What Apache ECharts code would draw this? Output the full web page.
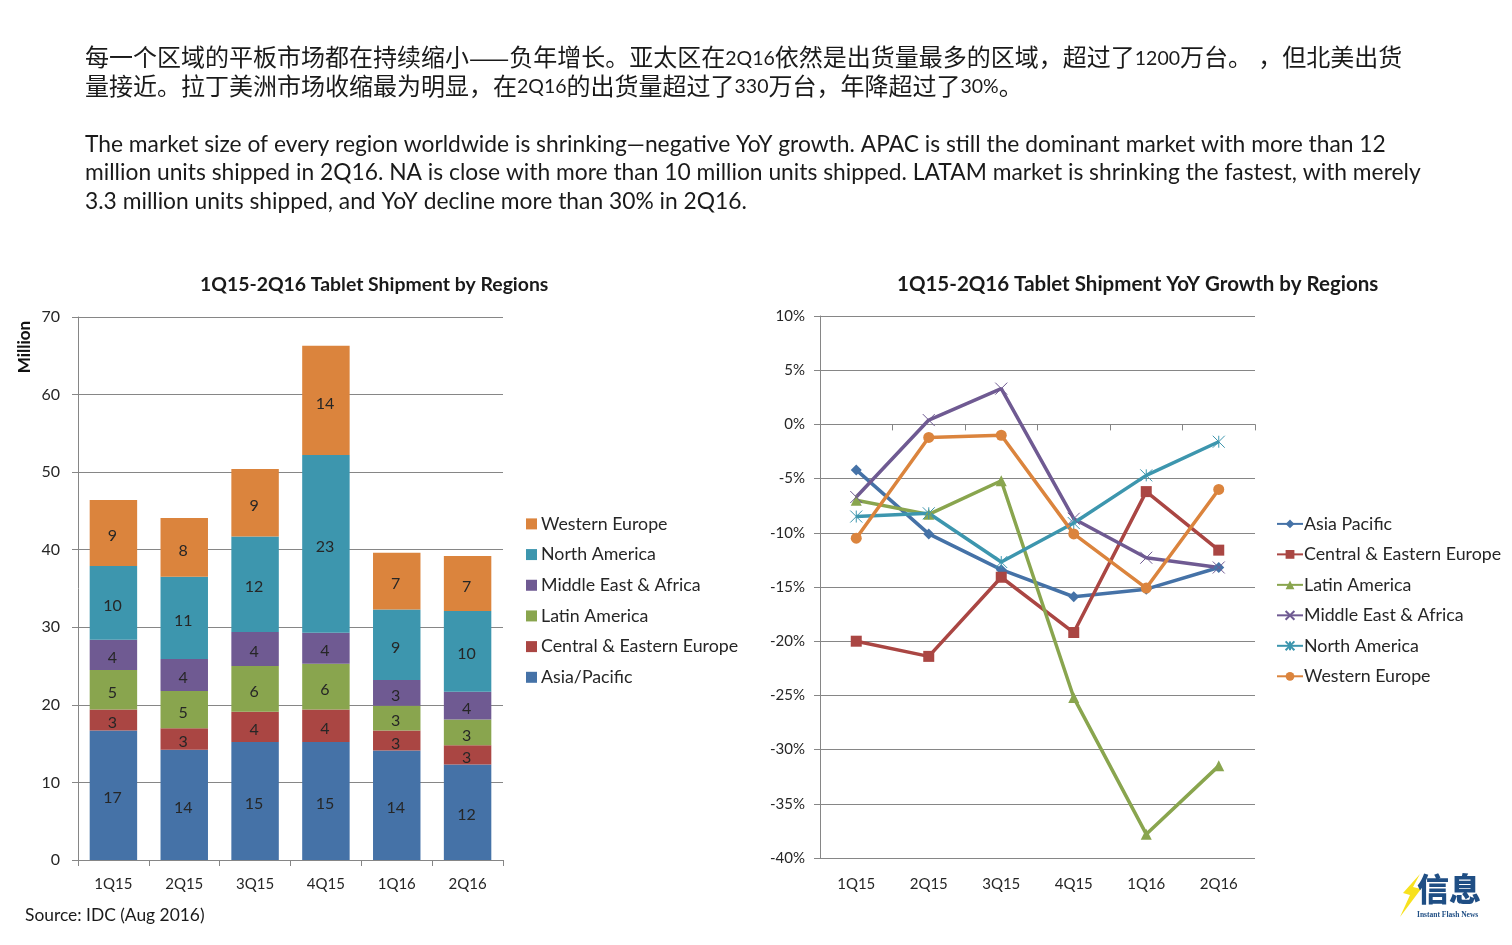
<!DOCTYPE html>
<html>
<head>
<meta charset="utf-8">
<title>Tablet Shipment by Regions</title>
<script src="https://cdn.jsdelivr.net/npm/echarts@6/dist/echarts.min.js"></script>
<style>
  html, body { margin: 0; padding: 0; background: #fff; }
  #main { width: 1512px; height: 945px; }
</style>
</head>
<body>
<div id="main"></div>
<script>
  const quarters = ['1Q15', '2Q15', '3Q15', '4Q15', '1Q16', '2Q16'];

  // shipment, million units
  const shipAsiaPacific = [16.7, 14.2, 15.2, 15.2, 14.1, 12.3];
  const shipCentralEurope = [2.7, 2.8, 3.9, 4.2, 2.6, 2.5];
  const shipLatinAmerica = [5.1, 4.8, 5.9, 5.9, 3.2, 3.3];
  const shipMiddleEast = [3.9, 4.1, 4.4, 4.0, 3.3, 3.6];
  const shipNorthAmerica = [9.5, 10.6, 12.3, 22.9, 9.1, 10.4];
  const shipWesternEurope = [8.5, 7.6, 8.7, 14.1, 7.3, 7.1];

  // YoY growth, percent
  const yoyAsiaPacific = [-4.2, -10.1, -13.4, -15.9, -15.2, -13.2];
  const yoyCentralEurope = [-20, -21.4, -14.1, -19.2, -6.2, -11.6];
  const yoyLatinAmerica = [-7.0, -8.3, -5.2, -25.2, -37.8, -31.5];
  const yoyMiddleEast = [-6.7, 0.4, 3.3, -8.7, -12.3, -13.2];
  const yoyNorthAmerica = [-8.5, -8.2, -12.7, -9.1, -4.7, -1.6];
  const yoyWesternEurope = [-10.5, -1.2, -1.0, -10.1, -15.1, -6.0];

  const BLUE = '#4572A7';
  const RED = '#AA4643';
  const GREEN = '#89A54E';
  const PURPLE = '#6F5A92';
  const TEAL = '#3D96AE';
  const ORANGE = '#DB843D';
  const GRID = '#868686';
  const TEXT = '#262626';
  const FONT = 'Lato, "Noto Sans CJK SC", sans-serif';

  const barSeries = (name, data, color) => ({
    name: name,
    type: 'bar',
    stack: 'total',
    xAxisIndex: 0,
    yAxisIndex: 0,
    barCategoryGap: '33%',
    data: data,
    itemStyle: { color: color },
    label: {
      show: true,
      position: 'inside',
      offset: [-1, 3],
      color: TEXT,
      fontSize: 16,
      fontFamily: FONT,
      formatter: p => Math.round(p.value),
    },
  });

  const lineSeries = (name, data, color, symbol, size, hollow) => ({
    name: name,
    type: 'line',
    xAxisIndex: 1,
    yAxisIndex: 1,
    data: data,
    symbol: symbol,
    symbolSize: size,
    showSymbol: true,
    lineStyle: { color: color, width: 3.5 },
    itemStyle: hollow
      ? { color: color, borderColor: color, borderWidth: 1 }
      : { color: color },
  });

  // the two markers made of thin strokes
  const CROSS = 'path://M0 0L10 10M10 0L0 10';
  const ASTERISK = 'path://M0 0L10 10M10 0L0 10M5 0L5 10';

  const sideText = (text, left, top, extra) => ({
    text: text,
    left: left,
    top: top,
    padding: 0,
    textStyle: Object.assign({
      fontFamily: FONT,
      fontWeight: 'normal',
      fontSize: 22.8,
      lineHeight: 28.6,
      color: '#1a1a1a',
    }, extra || {}),
  });

  // digits run small in the Chinese paragraph, the dash is a full CJK one
  const zhRich = {
    n: { fontFamily: 'Lato', fontSize: 19.5, color: '#1a1a1a', lineHeight: 28.6 },
    d: { fontFamily: '"Noto Sans CJK SC"', fontSize: 24, color: '#1a1a1a', lineHeight: 28.6 },
  };

  const chart = echarts.init(document.getElementById('main'));
  chart.setOption({
    animation: false,
    backgroundColor: '#fff',
    title: [
      sideText('每一个区域的平板市场都在持续缩小{d|——}负年增长。亚太区在{n|2Q16}依然是出货量最多的区域，超过了{n|1200}万台。 ，但北美出货\n量接近。拉丁美洲市场收缩最为明显，在{n|2Q16}的出货量超过了{n|330}万台，年降超过了{n|30%}。', 85, 44, { fontSize: 24, rich: zhRich }),
      sideText('The market size of every region worldwide is shrinking—negative YoY growth. APAC is still the dominant market with more than 12\nmillion units shipped in 2Q16. NA is close with more than 10 million units shipped. LATAM market is shrinking the fastest, with merely\n3.3 million units shipped, and YoY decline more than 30% in 2Q16.', 85, 130),
      sideText('1Q15-2Q16 Tablet Shipment by Regions', 200, 273, { fontSize: 19.4, fontWeight: 'bold', lineHeight: 24 }),
      sideText('1Q15-2Q16 Tablet Shipment YoY Growth by Regions', 897, 272, { fontSize: 20.5, fontWeight: 'bold', lineHeight: 24 }),
      sideText('Source: IDC (Aug 2016)', 25, 904, { fontSize: 17.4, lineHeight: 22 }),
    ],
    grid: [
      { left: 78, top: 317, width: 425, height: 543, containLabel: false },
      { left: 820, top: 316, width: 435, height: 542, containLabel: false },
    ],
    legend: [
      {
        orient: 'vertical',
        left: 526,
        top: 515,
        padding: 0,
        itemGap: 12.9,
        itemWidth: 11,
        itemHeight: 11,
        icon: 'rect',
        textStyle: { fontFamily: FONT, fontSize: 17.8, color: TEXT, padding: [0, 0, 0, -1] },
        data: ['Western Europe', 'North America', 'Middle East & Africa', 'Latin America', 'Central & Eastern Europe', 'Asia/Pacific'],
      },
      {
        orient: 'vertical',
        left: 1276,
        top: 515,
        padding: 0,
        itemGap: 12.7,
        itemWidth: 26,
        itemHeight: 11,
        textStyle: { fontFamily: FONT, fontSize: 17.8, color: TEXT, padding: [0, 0, 0, -4] },
        data: ['Asia Pacific', 'Central & Eastern Europe ', 'Latin America ', 'Middle East & Africa ', 'North America ', 'Western Europe '],
      },
    ],
    xAxis: [
      {
        type: 'category',
        gridIndex: 0,
        data: quarters,
        axisLine: { lineStyle: { color: GRID } },
        axisTick: { show: true, length: 6, lineStyle: { color: GRID } },
        axisLabel: { color: TEXT, fontFamily: FONT, fontSize: 15, margin: 17 },
      },
      {
        // labels stay at the bottom of the plot, the zero line is the next axis
        type: 'category',
        gridIndex: 1,
        data: quarters,
        position: 'bottom',
        axisLine: { show: false, onZero: false },
        axisTick: { show: false },
        axisLabel: { color: TEXT, fontFamily: FONT, fontSize: 15, margin: 19 },
      },
      {
        type: 'category',
        gridIndex: 1,
        data: quarters,
        position: 'bottom',
        axisLine: { show: true, onZero: true, lineStyle: { color: GRID } },
        axisTick: { show: true, length: 6, lineStyle: { color: GRID } },
        axisLabel: { show: false },
      },
    ],
    yAxis: [
      {
        type: 'value',
        gridIndex: 0,
        min: 0,
        max: 70,
        interval: 10,
        axisLine: { show: true, lineStyle: { color: GRID } },
        axisTick: { show: true, length: 6, lineStyle: { color: GRID } },
        axisLabel: { color: TEXT, fontFamily: FONT, fontSize: 16, margin: 18, padding: [5, 0, 0, 0] },
        splitLine: { lineStyle: { color: GRID } },
      },
      {
        type: 'value',
        gridIndex: 1,
        min: -40,
        max: 10,
        interval: 5,
        axisLine: { show: true, lineStyle: { color: GRID } },
        axisTick: { show: true, length: 6, lineStyle: { color: GRID } },
        axisLabel: { color: TEXT, fontFamily: FONT, fontSize: 15, margin: 15, padding: [5, 0, 0, 0], formatter: '{value}%' },
        splitLine: { lineStyle: { color: GRID } },
      },
    ],
    series: [
      barSeries('Asia/Pacific', shipAsiaPacific, BLUE),
      barSeries('Central & Eastern Europe', shipCentralEurope, RED),
      barSeries('Latin America', shipLatinAmerica, GREEN),
      barSeries('Middle East & Africa', shipMiddleEast, PURPLE),
      barSeries('North America', shipNorthAmerica, TEAL),
      barSeries('Western Europe', shipWesternEurope, ORANGE),
      lineSeries('Asia Pacific', yoyAsiaPacific, BLUE, 'diamond', 11),
      lineSeries('Central & Eastern Europe ', yoyCentralEurope, RED, 'rect', 11),
      lineSeries('Latin America ', yoyLatinAmerica, GREEN, 'triangle', 11),
      lineSeries('Middle East & Africa ', yoyMiddleEast, PURPLE, CROSS, 12, true),
      lineSeries('North America ', yoyNorthAmerica, TEAL, ASTERISK, 12, true),
      lineSeries('Western Europe ', yoyWesternEurope, ORANGE, 'circle', 11),
    ],
    graphic: [
      {
        // y axis title
        type: 'text',
        x: 25,
        y: 347,
        rotation: Math.PI / 2,
        style: { text: 'Million', fontFamily: FONT, fontWeight: 'bold', fontSize: 17, fill: '#111', align: 'center', verticalAlign: 'middle' },
      },
      // logo, bottom right corner
      {
        type: 'polygon',
        shape: { points: [[1420, 874], [1403, 893], [1410, 895], [1400, 917], [1421, 889], [1413, 887]] },
        style: { fill: '#F7E11E' },
      },
      {
        type: 'text',
        left: 1417,
        top: 873,
        style: { text: '信息', fontFamily: '"Noto Sans CJK SC"', fontWeight: 900, fontSize: 32, fill: '#1F4E84' },
      },
      {
        type: 'text',
        left: 1417,
        top: 911,
        style: { text: 'Instant Flash News', fontFamily: '"Liberation Serif"', fontWeight: 'bold', fontSize: 7.5, fill: '#1F4E84' },
      },
    ],
  });
</script>
</body>
</html>
